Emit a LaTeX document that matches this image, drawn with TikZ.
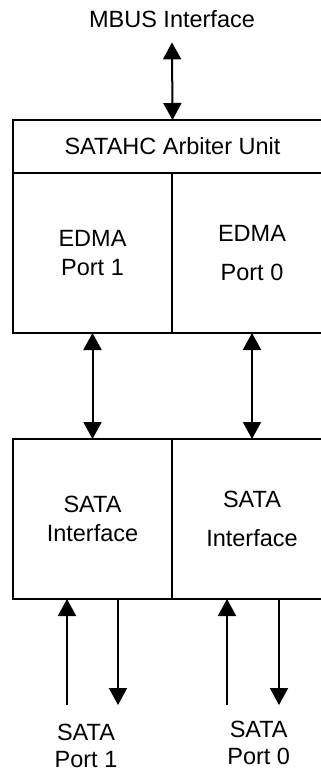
\documentclass[tikz,border=0pt]{standalone}
\usepackage{fontspec}
\setmainfont{Liberation Sans}
\usetikzlibrary{arrows.meta}
\begin{document}
\begin{tikzpicture}[x=1pt,y=-1pt,
  box/.style={draw, line width=2pt, inner sep=0pt, outer sep=0pt, anchor=north west, align=center, font=\fontsize{23.5}{29}\selectfont},
  lbl/.style={align=center, font=\fontsize{23.5}{26.5}\selectfont, inner sep=0pt},
  arr/.style={line width=2pt, -{Triangle[length=17pt,width=18pt]}},
  dbl/.style={line width=2pt, {Triangle[length=17pt,width=18pt]}-{Triangle[length=17pt,width=18pt]}}]
\useasboundingbox (0,0) rectangle (321,772);
\clip (0,0) rectangle (321,772);
\node[box, minimum width=319pt, minimum height=53pt] (arb) at (13,120) {SATAHC Arbiter Unit};
\node[box, minimum width=159pt, minimum height=160pt] (e1) at (13,173) {EDMA\\Port 1};
\node[box, minimum width=160pt, minimum height=160pt] (e0) at (172,173) {EDMA\\[10pt]Port 0};
\node[box, minimum width=159pt, minimum height=160pt] (s1) at (13,439) {SATA\\Interface};
\node[box, minimum width=160pt, minimum height=160pt] (s0) at (172,439) {SATA\\[10pt]Interface};
\node[lbl, anchor=base] (mbus) at (172,27) {MBUS Interface};
\draw[dbl] ([yshift=-15pt]mbus.south) -- (arb.north);
\draw[dbl] (e1.south) -- (s1.north);
\draw[dbl] (e0.south) -- (s0.north);
\coordinate (i1) at (67,705);
\coordinate (o1) at (118,705);
\coordinate (i0) at (227,705);
\coordinate (o0) at (279,705);
\draw[arr] (i1) -- (i1 |- s1.south);
\draw[arr] (o1 |- s1.south) -- (o1);
\draw[arr] (i0) -- (i0 |- s0.south);
\draw[arr] (o0 |- s0.south) -- (o0);
\node[lbl] (p1) at (86,746) {SATA\\Port 1};
\node[lbl] (p0) at (258.7,743) {SATA\\Port 0};
\end{tikzpicture}
\end{document}
